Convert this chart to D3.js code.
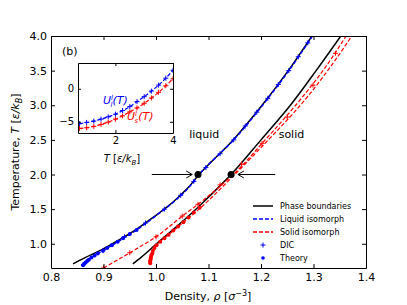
<!DOCTYPE html>
<html><head><meta charset="utf-8">
<script src="https://cdn.jsdelivr.net/npm/d3@7"></script>
<style>
body{margin:0;background:#fff}
text{font-family:"DejaVu Sans",sans-serif}
</style>
</head><body>
<div id="chart"></div>
<script>
// ---- data ----
var liqBoundT   = [0.71,0.8,0.9,1.0,1.2,1.4,1.6,1.8,2.0,2.5,3.0,3.5,4.0];
var liqBoundRho = [0.842,0.865,0.893,0.917,0.961,0.998,1.032,1.060,1.082,1.147,1.202,1.252,1.297];
var solBoundT   = [0.71,0.8,1.0,1.2,1.4,1.6,1.8,2.0,2.5,3.0,3.5,4.0];
var solBoundRho = [0.956,0.971,1.001,1.032,1.062,1.090,1.117,1.143,1.200,1.256,1.305,1.352];

var liqIsoT   = [0.69,0.8,0.9,1.0,1.2,1.4,1.6,1.8,2.0,2.5,3.0,3.5,4.0];
var liqIsoRho = [0.861,0.877,0.899,0.921,0.963,0.999,1.033,1.061,1.082,1.148,1.203,1.253,1.298];
var solIsoAT   = [0.65,0.87,1.10,1.40,1.57,1.85,2.0,2.5,3.0,3.5,4.0];
var solIsoARho = [0.900,0.950,1.000,1.050,1.080,1.125,1.147,1.208,1.266,1.318,1.362];
var solIsoBT   = [0.72,0.80,0.90,1.0,1.2,1.5,2.0,2.5,3.0,3.5,4.0];
var solIsoBRho = [0.989,0.990,0.994,1.004,1.035,1.082,1.150,1.214,1.275,1.327,1.373];

// DIC (plus) and theory (dots)
var liqDicT   = [0.7,0.9,1.1,1.3,1.5,1.7,1.9,2.1,2.3,2.5,2.7,2.9,3.1,3.3,3.5,3.7,3.9];
var liqDicRho = [0.862,0.899,0.940,0.980,1.016,1.047,1.072,1.095,1.122,1.148,1.170,1.192,1.213,1.233,1.253,1.271,1.289];
var liqThT    = [0.69,0.71,0.73,0.75,0.77,0.80,0.83,0.86,0.90,0.94,0.98,1.03,1.08,1.14,1.20];
var liqThRho  = [0.861,0.863,0.866,0.869,0.872,0.877,0.883,0.889,0.899,0.907,0.916,0.927,0.937,0.950,0.963];
var solDicT   = [0.65,0.87,1.10,1.40,1.57,1.85,2.15,2.45,2.83,3.29,3.75];
var solDicRho = [0.900,0.950,1.000,1.050,1.080,1.122,1.163,1.202,1.250,1.299,1.342];
var solThT    = [0.72,0.74,0.76,0.78,0.80,0.83,0.86,0.90,0.94,0.98,1.03,1.08,1.13,1.19,1.25,1.31,1.38,1.45,1.52];
var solThRho  = [0.989,0.989,0.989,0.990,0.990,0.991,0.993,0.994,0.997,1.001,1.008,1.016,1.024,1.033,1.042,1.052,1.062,1.072,1.083];

// state points marked at T = 2
var markT   = [2.0,2.0];
var markRho = [1.080,1.143];

// inset
var insetT  = [0.75,1.0,1.25,1.5,1.75,2.0,2.25,2.5,2.75,3.0,3.25,3.5,3.75,4.0];
var insetUl = [-5.3,-5.1,-4.9,-4.6,-4.25,-3.85,-3.3,-2.7,-1.95,-1.2,-0.35,0.55,1.6,2.8];
var insetUs = [-6.0,-5.9,-5.7,-5.4,-5.05,-4.6,-4.1,-3.5,-2.9,-2.2,-1.4,-0.55,0.45,1.5];

var xTicks = [0.8,0.9,1.0,1.1,1.2,1.3,1.4];
var yTicks = [1.0,1.5,2.0,2.5,3.0,3.5,4.0];
var insetXTicks = [2,4];
var insetYTicks = [0,-5];

function zip(a,b){ return a.map(function(v,i){ return [v,b[i]]; }); }

var W = 407, H = 305;
var svg = d3.select("#chart").append("svg")
  .attr("width", W).attr("height", H)
  .style("display","block");

var x = d3.scaleLinear().domain([0.8,1.4]).range([51,366]);
var y = d3.scaleLinear().domain([0.65,4.0]).range([268,36]);

svg.append("defs").append("clipPath").attr("id","clipMain")
  .append("rect").attr("x",51).attr("y",36).attr("width",315).attr("height",232);

var plot = svg.append("g").attr("clip-path","url(#clipMain)");

var line = d3.line().x(function(d){ return x(d[1]); }).y(function(d){ return y(d[0]); }).curve(d3.curveMonotoneY);

// phase boundaries
[zip(liqBoundT,liqBoundRho), zip(solBoundT,solBoundRho)].forEach(function(s){
  plot.append("path").datum(s).attr("d",line)
    .attr("fill","none").attr("stroke","#000").attr("stroke-width",1.5);
});
// isomorphs
plot.append("path").datum(zip(liqIsoT,liqIsoRho)).attr("d",line)
  .attr("fill","none").attr("stroke","#0000ff").attr("stroke-width",1.5).attr("stroke-dasharray","4,2");
[zip(solIsoAT,solIsoARho), zip(solIsoBT,solIsoBRho)].forEach(function(s){
  plot.append("path").datum(s).attr("d",line)
    .attr("fill","none").attr("stroke","#ff0000").attr("stroke-width",1.2).attr("stroke-dasharray","4,2");
});

function plus(g, pts, sx, sy, color, r){
  g.selectAll(null).data(pts).enter().append("path")
    .attr("d", function(d){ var px=sx(d[0]), py=sy(d[1]);
      return "M"+(px-r)+","+py+"H"+(px+r)+"M"+px+","+(py-r)+"V"+(py+r); })
    .attr("stroke",color).attr("stroke-width",1).attr("fill","none");
}
function dots(g, pts, sx, sy, color, r){
  g.selectAll(null).data(pts).enter().append("circle")
    .attr("cx", function(d){ return sx(d[0]); })
    .attr("cy", function(d){ return sy(d[1]); })
    .attr("r", r).attr("fill",color);
}

plus(plot, zip(liqDicRho,liqDicT), x, y, "#0000ff", 2.5);
dots(plot, zip(liqThRho,liqThT), x, y, "#0000ff", 2);
plus(plot, zip(solDicRho,solDicT), x, y, "#ff0000", 2.5);
dots(plot, zip(solThRho,solThT), x, y, "#ff0000", 2);

// marked state points
dots(plot, zip(markRho,markT), x, y, "#000", 3.5);

// arrows
function arrow(x1, x2, yy){
  var dir = x2 > x1 ? 1 : -1;
  svg.append("line").attr("x1",x1).attr("x2",x2).attr("y1",yy).attr("y2",yy)
    .attr("stroke","#000").attr("stroke-width",1);
  svg.append("path").attr("d","M"+(x2-dir*6)+","+(yy-3.5)+"L"+x2+","+yy+"L"+(x2-dir*6)+","+(yy+3.5))
    .attr("fill","none").attr("stroke","#000").attr("stroke-width",1);
}
arrow(x(0.992), x(1.069), y(2.0));
arrow(x(1.227), x(1.156), y(2.0));

svg.append("text").attr("x",x(1.092)).attr("y",y(2.53)).attr("text-anchor","middle")
  .style("font-size","11px").text("liquid");
svg.append("text").attr("x",x(1.258)).attr("y",y(2.53)).attr("text-anchor","middle")
  .style("font-size","11px").text("solid");

// axes with inward ticks
function styleAxis(g){
  g.selectAll("path.domain").attr("stroke","#000").attr("stroke-width",1);
  g.selectAll(".tick line").attr("stroke","#000").attr("stroke-width",1);
  g.selectAll("text").style("font-size","11px").style("font-family","'DejaVu Sans',sans-serif").attr("fill","#000");
}
var fmt = d3.format(".1f");
svg.append("g").attr("transform","translate(0,268)")
  .call(d3.axisBottom(x).tickValues(xTicks).tickFormat(fmt).tickSizeInner(-4).tickSizeOuter(0).tickPadding(5))
  .call(styleAxis);
svg.append("g").attr("transform","translate(0,36)")
  .call(d3.axisTop(x).tickValues(xTicks).tickFormat("").tickSizeInner(-4).tickSizeOuter(0))
  .call(styleAxis);
svg.append("g").attr("transform","translate(51,0)")
  .call(d3.axisLeft(y).tickValues(yTicks).tickFormat(fmt).tickSizeInner(-4).tickSizeOuter(0).tickPadding(4))
  .call(styleAxis);
svg.append("g").attr("transform","translate(366,0)")
  .call(d3.axisRight(y).tickValues(yTicks).tickFormat("").tickSizeInner(-4).tickSizeOuter(0))
  .call(styleAxis);

svg.append("text").attr("x",62).attr("y",55).style("font-size","11px").text("(b)");

// axis labels
var xl = svg.append("text").attr("x",208).attr("y",300).attr("text-anchor","middle").style("font-size","11px");
xl.append("tspan").text("Density, ");
xl.append("tspan").style("font-style","italic").text("ρ");
xl.append("tspan").text(" [");
xl.append("tspan").style("font-style","italic").text("σ");
xl.append("tspan").attr("dy",-4).style("font-size","8px").text("−3");
xl.append("tspan").attr("dy",4).text("]");

var yl = svg.append("text").attr("transform","translate(19,152) rotate(-90)").attr("text-anchor","middle").style("font-size","11px");
yl.append("tspan").text("Temperature, ");
yl.append("tspan").style("font-style","italic").text("T");
yl.append("tspan").text(" [");
yl.append("tspan").style("font-style","italic").text("ε/k");
yl.append("tspan").attr("dy",3).style("font-size","8px").style("font-style","italic").text("B");
yl.append("tspan").attr("dy",-3).text("]");

// legend
var legend = svg.append("g").style("font-size","8px");
var legY = [206,219,232,245,258];
var legLabels = ["Phase boundaries","Liquid isomorph","Solid isomorph","DIC","Theory"];
[["#000",null],["#0000ff","4,2"],["#ff0000","4,2"]].forEach(function(s,i){
  legend.append("line").attr("x1",253).attr("x2",273).attr("y1",legY[i]).attr("y2",legY[i])
    .attr("stroke",s[0]).attr("stroke-width",1.5).attr("stroke-dasharray",s[1]);
});
legend.append("path").attr("d","M260.5,"+legY[3]+"H265.5M263,"+(legY[3]-2.5)+"V"+(legY[3]+2.5))
  .attr("stroke","#0000ff").attr("stroke-width",1);
legend.append("circle").attr("cx",263).attr("cy",legY[4]).attr("r",1.8).attr("fill","#0000ff");
legLabels.forEach(function(t,i){
  legend.append("text").attr("x",280).attr("y",legY[i]).attr("dy","0.35em").text(t);
});

// ---- inset ----
var ix = d3.scaleLinear().domain([0.7,4.0]).range([78,173]);
var iy = d3.scaleLinear().domain([-6.7,3.9]).range([133,63]);
var inset = svg.append("g");
inset.append("rect").attr("x",78).attr("y",63).attr("width",95).attr("height",70).attr("fill","#fff");
svg.append("defs").append("clipPath").attr("id","clipInset")
  .append("rect").attr("x",78).attr("y",63).attr("width",95).attr("height",70);
var ip = inset.append("g").attr("clip-path","url(#clipInset)");
var iline = d3.line().x(function(d){ return ix(d[0]); }).y(function(d){ return iy(d[1]); }).curve(d3.curveMonotoneX);
ip.append("path").datum(zip(insetT,insetUl)).attr("d",iline)
  .attr("fill","none").attr("stroke","#0000ff").attr("stroke-width",1.2).attr("stroke-dasharray","4,2");
ip.append("path").datum(zip(insetT,insetUs)).attr("d",iline)
  .attr("fill","none").attr("stroke","#ff0000").attr("stroke-width",1.2).attr("stroke-dasharray","4,2");
plus(ip, zip(insetT,insetUl), ix, iy, "#0000ff", 2.5);
plus(ip, zip(insetT,insetUs), ix, iy, "#ff0000", 2.5);

function styleInset(g){
  styleAxis(g);
  g.selectAll("text").style("font-size","10px");
}
inset.append("g").attr("transform","translate(0,133)")
  .call(d3.axisBottom(ix).tickValues(insetXTicks).tickFormat(d3.format("d")).tickSizeInner(-3).tickSizeOuter(0).tickPadding(4))
  .call(styleInset);
inset.append("g").attr("transform","translate(0,63)")
  .call(d3.axisTop(ix).tickValues(insetXTicks).tickFormat("").tickSizeInner(-3).tickSizeOuter(0))
  .call(styleInset);
inset.append("g").attr("transform","translate(78,0)")
  .call(d3.axisLeft(iy).tickValues(insetYTicks).tickFormat(d3.format("d")).tickSizeInner(-3).tickSizeOuter(0).tickPadding(4))
  .call(styleInset);
inset.append("g").attr("transform","translate(173,0)")
  .call(d3.axisRight(iy).tickValues(insetYTicks).tickFormat("").tickSizeInner(-3).tickSizeOuter(0))
  .call(styleInset);

function uLabel(xp, yp, sub, color){
  var t = svg.append("text").attr("x",xp).attr("y",yp).attr("fill",color)
    .style("font-size","11px").style("font-style","italic");
  t.append("tspan").text("U");
  t.append("tspan").attr("dy",-4).style("font-size","7px").text("l");
  t.append("tspan").attr("dx",-2.5).attr("dy",7).style("font-size","7px").text(sub);
  t.append("tspan").attr("dy",-3).text("(T)");
}
uLabel(103, 104, "l", "#0000ff");
uLabel(127, 120, "s", "#ff0000");

var il = svg.append("text").attr("x",122).attr("y",162).attr("text-anchor","middle").style("font-size","10px");
il.append("tspan").style("font-style","italic").text("T");
il.append("tspan").text(" [");
il.append("tspan").style("font-style","italic").text("ε/k");
il.append("tspan").attr("dy",3).style("font-size","7px").style("font-style","italic").text("B");
il.append("tspan").attr("dy",-3).text("]");
</script>
</body></html>
